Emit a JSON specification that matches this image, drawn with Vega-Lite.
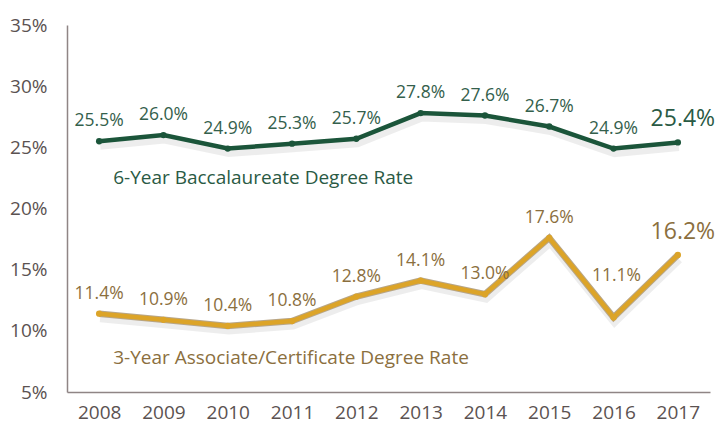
{
  "$schema": "https://vega.github.io/schema/vega-lite/v6.json",
  "width": 643,
  "height": 367,
  "autosize": {"type": "none"},
  "padding": {"left": 67, "top": 25, "right": 14, "bottom": 38},
  "background": "#ffffff",
  "config": {"view": {"stroke": null}, "font": "Open Sans"},
  "datasets": {
    "rates": [
      {"series": "6-Year", "year": "2008", "value": 25.5},
      {"series": "6-Year", "year": "2009", "value": 26.0},
      {"series": "6-Year", "year": "2010", "value": 24.9},
      {"series": "6-Year", "year": "2011", "value": 25.3},
      {"series": "6-Year", "year": "2012", "value": 25.7},
      {"series": "6-Year", "year": "2013", "value": 27.8},
      {"series": "6-Year", "year": "2014", "value": 27.6},
      {"series": "6-Year", "year": "2015", "value": 26.7},
      {"series": "6-Year", "year": "2016", "value": 24.9},
      {"series": "6-Year", "year": "2017", "value": 25.4},
      {"series": "3-Year", "year": "2008", "value": 11.4},
      {"series": "3-Year", "year": "2009", "value": 10.9},
      {"series": "3-Year", "year": "2010", "value": 10.4},
      {"series": "3-Year", "year": "2011", "value": 10.8},
      {"series": "3-Year", "year": "2012", "value": 12.8},
      {"series": "3-Year", "year": "2013", "value": 14.1},
      {"series": "3-Year", "year": "2014", "value": 13.0},
      {"series": "3-Year", "year": "2015", "value": 17.6},
      {"series": "3-Year", "year": "2016", "value": 11.1},
      {"series": "3-Year", "year": "2017", "value": 16.2}
    ],
    "titles": [
      {"series": "6-Year", "year": "2008", "value": 22.5, "label": "6-Year Baccalaureate Degree Rate"},
      {"series": "3-Year", "year": "2008", "value": 7.8, "label": "3-Year Associate/Certificate Degree Rate"}
    ]
  },
  "encoding": {
    "x": {
      "field": "year", "type": "ordinal",
      "scale": {"type": "point", "padding": 0.5},
      "axis": {"title": null, "labelAngle": 0, "ticks": false, "grid": false, "domainColor": "#8f8585", "domainWidth": 1.5, "labelFontSize": 19, "labelColor": "#5b5251", "labelPadding": 11}
    },
    "y": {
      "field": "value", "type": "quantitative",
      "scale": {"domain": [5, 35], "nice": false, "zero": false},
      "axis": {"title": null, "values": [5, 10, 15, 20, 25, 30, 35], "labelExpr": "datum.value + '%'", "ticks": false, "grid": false, "domainColor": "#8f8585", "domainWidth": 1.5, "labelFontSize": 19, "labelColor": "#5b5251", "labelPadding": 20}
    }
  },
  "layer": [
    {
      "data": {"name": "rates"},
      "mark": {"type": "line", "strokeWidth": 9, "color": "#000000", "opacity": 0.07, "yOffset": 4, "xOffset": 1},
      "encoding": {"detail": {"field": "series"}}
    },
    {
      "data": {"name": "rates"},
      "transform": [{"filter": "datum.series === '3-Year'"}],
      "mark": {"type": "line", "strokeWidth": 6.5, "color": "#b8a688"},
      "encoding": {}
    },
    {
      "data": {"name": "rates"},
      "mark": {"type": "line", "strokeWidth": 4.5},
      "encoding": {
        "color": {"field": "series", "type": "nominal", "scale": {"domain": ["6-Year", "3-Year"], "range": ["#1b553a", "#dca428"]}, "legend": null},
        "detail": {"field": "series"}
      }
    },
    {
      "data": {"name": "rates"},
      "mark": {"type": "point", "filled": true, "size": 40, "opacity": 1},
      "encoding": {
        "color": {"field": "series", "type": "nominal", "scale": {"domain": ["6-Year", "3-Year"], "range": ["#1b553a", "#dca428"]}, "legend": null}
      }
    },
    {
      "data": {"name": "rates"},
      "transform": [
        {"filter": "datum.year !== '2017' && !(datum.year === '2016' && datum.series === '3-Year')"},
        {"calculate": "format(datum.value, '.1f') + '%'", "as": "lbl"}
      ],
      "mark": {"type": "text", "baseline": "middle", "align": "center", "dy": -20, "fontSize": 17.5},
      "encoding": {
        "text": {"field": "lbl", "type": "nominal"},
        "color": {"condition": {"test": "datum.series === '6-Year'", "value": "#34604c"}, "value": "#8b6f3e"}
      }
    },
    {
      "data": {"name": "rates"},
      "transform": [
        {"filter": "datum.year === '2016' && datum.series === '3-Year'"},
        {"calculate": "format(datum.value, '.1f') + '%'", "as": "lbl"}
      ],
      "mark": {"type": "text", "baseline": "middle", "align": "center", "dy": -41, "dx": 3, "fontSize": 17.5, "color": "#8b6f3e"},
      "encoding": {
        "text": {"field": "lbl", "type": "nominal"}
      }
    },
    {
      "data": {"name": "rates"},
      "transform": [
        {"filter": "datum.year === '2017'"},
        {"calculate": "format(datum.value, '.1f') + '%'", "as": "lbl"}
      ],
      "mark": {"type": "text", "baseline": "middle", "align": "center", "dy": -23, "dx": 5, "fontSize": 23},
      "encoding": {
        "text": {"field": "lbl", "type": "nominal"},
        "color": {"condition": {"test": "datum.series === '6-Year'", "value": "#2a5a44"}, "value": "#8b6f3e"}
      }
    },
    {
      "data": {"name": "titles"},
      "mark": {"type": "text", "baseline": "middle", "align": "left", "dx": 14, "fontSize": 19},
      "encoding": {
        "text": {"field": "label", "type": "nominal"},
        "color": {"condition": {"test": "datum.series === '6-Year'", "value": "#2a5a44"}, "value": "#8b6f3e"}
      }
    }
  ]
}
